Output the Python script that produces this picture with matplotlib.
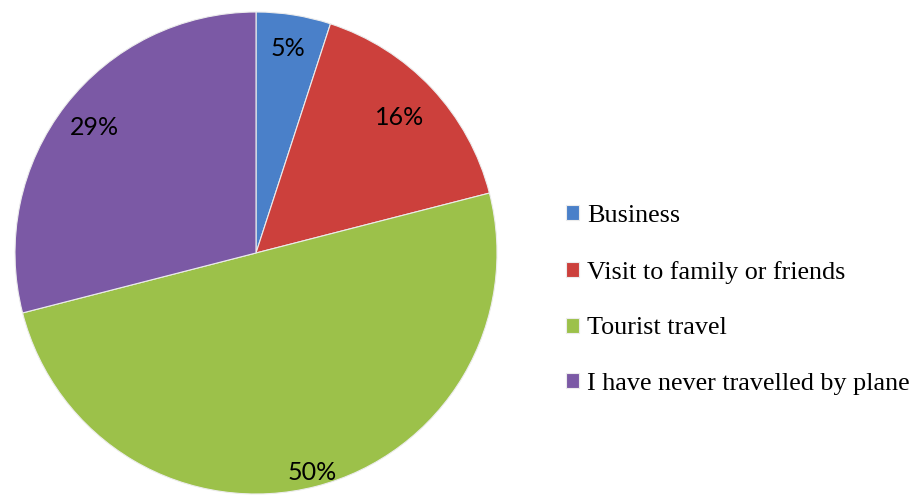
import matplotlib
matplotlib.use('Agg')
import matplotlib.pyplot as plt
import numpy as np

labels = ['Business', 'Visit to family or friends', 'Tourist travel', 'I have never travelled by plane']
shares = [5, 16, 50, 29]
colors = ['#4A80C9', '#CC403C', '#9CC14A', '#7B59A5']
# radial spot of each percentage label, as fraction of radius
label_r = [0.86, 0.82, 0.94, 0.85]

W, H = 914, 495
fig = plt.figure(figsize=(W / 100, H / 100), dpi=100)
ax = fig.add_axes([0, 0, 1, 1])

cx, cy, r = 256, H - 253, 241
wedges, texts, autotexts = ax.pie(
    shares, colors=colors, startangle=90, counterclock=False,
    center=(cx, cy), radius=r, autopct='%d%%', pctdistance=0.85,
    wedgeprops=dict(edgecolor='#ececec', linewidth=0.8),
    textprops=dict(family='Lato', fontsize=18, color='black'),
    frame=True)
ax.set_xlim(0, W)
ax.set_ylim(0, H)
ax.axis('off')

for w, t, f in zip(wedges, autotexts, label_r):
    ang = np.deg2rad((w.theta1 + w.theta2) / 2)
    t.set_position((cx + f * r * np.cos(ang), cy + f * r * np.sin(ang)))

leg = ax.legend(wedges, labels, loc='upper left',
                bbox_to_anchor=(566 / W, 1 - 205 / H),
                frameon=False, prop=dict(family='Liberation Serif', size=18.8),
                handlelength=0.5, handleheight=0.5, handletextpad=0.3,
                labelspacing=1.29, borderaxespad=0, borderpad=0)

fig.savefig('out.png', dpi=100)
